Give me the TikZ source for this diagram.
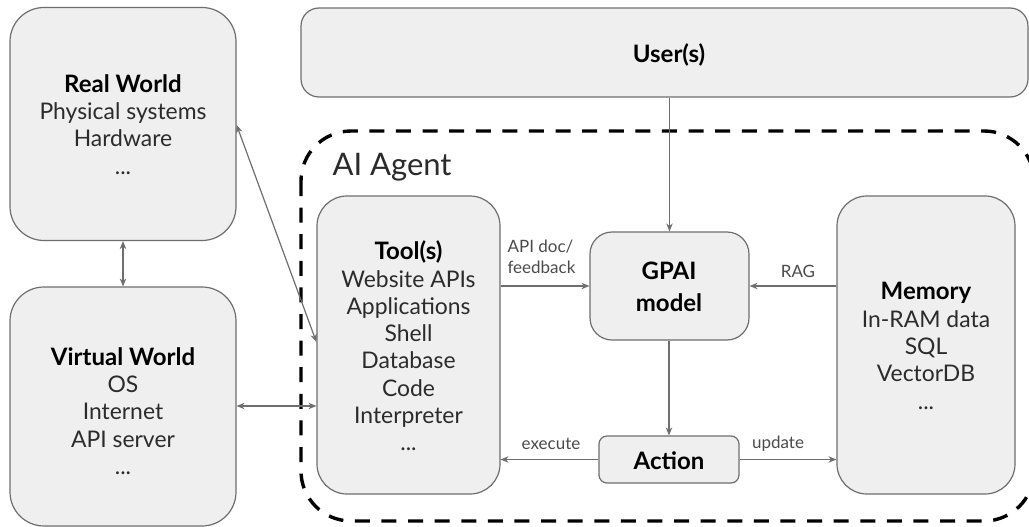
\documentclass[tikz,border=0pt]{standalone}
\usepackage{fontspec}
\setmainfont{Lato}
\newfontfamily\labfont{Lato}
\usetikzlibrary{arrows.meta}
\definecolor{boxfill}{HTML}{EFEFEF}
\definecolor{boxline}{HTML}{6E6E6E}
\definecolor{inktext}{HTML}{2B2B2B}
\newcommand{\hd}[1]{{\fontsize{24}{27.3}\selectfont\bfseries\color{black}#1}}
\tikzset{
 x=1pt,y=-1pt,
 panel/.style={draw=boxline,fill=boxfill,line width=1.2pt,rounded corners=#1,inner sep=0pt},
 boxtext/.style={font=\labfont\fontsize{22.9}{27.3}\selectfont,align=center,text=inktext},
 small/.style={font=\labfont\fontsize{17}{21}\selectfont,align=left,text=inktext!85},
 conn/.style={draw=boxline,line width=1.2pt,-{Stealth[length=8pt,width=6.5pt]}},
 both/.style={draw=boxline,line width=1.2pt,{Stealth[length=8pt,width=6.5pt]}-{Stealth[length=8pt,width=6.5pt]}}
}
\begin{document}
\begin{tikzpicture}
\useasboundingbox (0,0) rectangle (1029,527);
\clip (0,0) rectangle (1029,527);
\fill[white] (0,0) rectangle (1029,527);
\draw[line width=3.4pt,dash pattern=on 15pt off 11.6pt,rounded corners=50pt] (301,131) rectangle (1034,521);
\node[boxtext,font=\labfont\fontsize{31}{36}\selectfont,anchor=west] (agent) at (329,167) {AI Agent};
\node[panel=18pt,minimum width=727pt,minimum height=89pt] (user) at (664.5,52.5) {};
\node[boxtext] at (669,55) {\hd{User(s)}};
\node[panel=34pt,minimum width=226pt,minimum height=233pt] (real) at (123,124) {};
\node[boxtext] at (123,124.5) {\hd{Real World}\\Physical systems\\Hardware\\...};
\node[panel=34pt,minimum width=226pt,minimum height=239pt] (virt) at (123,406.5) {};
\node[boxtext] at (123,411) {\hd{Virtual World}\\OS\\Internet\\API server\\...};
\node[panel=30pt,minimum width=183pt,minimum height=298pt] (tool) at (408.5,345) {};
\node[boxtext] at (408.5,346) {\hd{Tool(s)}\\Website APIs\\Applications\\Shell\\Database\\Code\\Interpreter\\...};
\node[panel=22pt,minimum width=159pt,minimum height=108pt] (gpai) at (669.5,286) {};
\node[boxtext,font=\labfont\fontsize{22.9}{30}\selectfont] at (669,287) {\hd{GPAI}\\[2pt]\hd{model}};
\node[panel=30pt,minimum width=178pt,minimum height=298pt] (mem) at (926,345) {};
\node[boxtext] at (926,346) {\hd{Memory}\\In-RAM data\\SQL\\VectorDB\\...};
\node[panel=8pt,minimum width=140pt,minimum height=47pt] (action) at (669,459.5) {};
\node[boxtext] at (669,461) {\hd{Action}};
\draw[both] (real) -- (virt);
\draw[both] (real.east|-0,125) -- (tool.west|-0,342);
\draw[both] (virt.east|-0,406) -- (tool.west|-0,406);
\draw[conn] (user.south-|gpai.north) -- (gpai.north);
\draw[conn] (gpai.south-|action.north) -- (action.north);
\draw[conn] (tool.east|-0,286) -- (gpai.west);
\draw[conn] (mem.west|-0,286) -- (gpai.east);
\draw[conn] (action.west) -- (tool.east|-action);
\draw[conn] (action.east) -- (mem.west|-action);
\node[small,anchor=west] at (504,257) {API doc/\\feedback};
\node[small] at (798,271) {RAG};
\node[small] at (551,444) {execute};
\node[small] at (778,444) {update};
\end{tikzpicture}
\end{document}
